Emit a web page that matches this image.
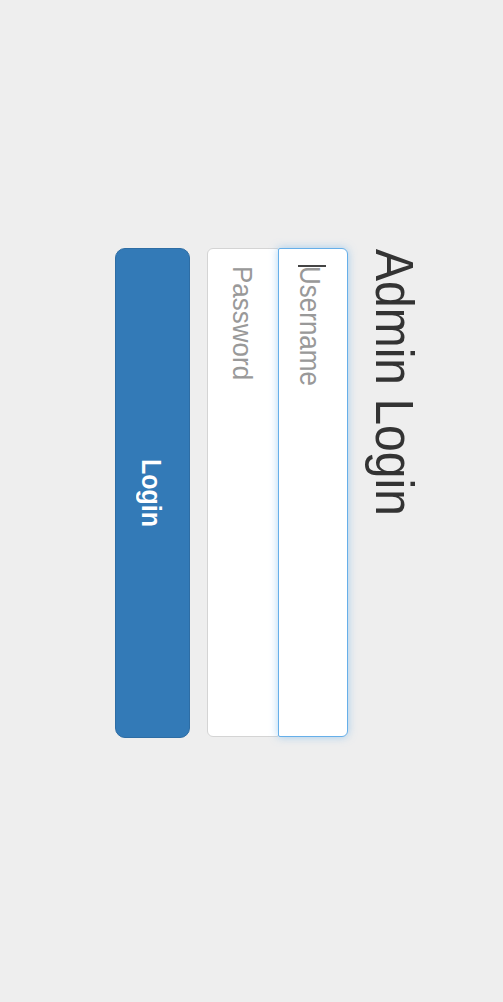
<!DOCTYPE html>
<html>
<head>
<meta charset="utf-8">
<script src="https://cdn.jsdelivr.net/npm/chart.js@4"></script>
<style>
  html, body { margin: 0; padding: 0; }
  body { width: 503px; height: 1002px; background: #eeeeee; overflow: hidden;
         font-family: "Liberation Sans", Arial, Helvetica, sans-serif; }
  /* form is laid out upright, then turned 90deg clockwise */
  #form { position: absolute; left: 425px; top: 248px; width: 490px; height: 320px;
          transform-origin: 0 0; transform: rotate(90deg); }
  .txt { position: absolute; white-space: nowrap; line-height: 1; }
  #title { left: 1px; top: 9.4px; font-size: 48px; color: #333;
           transform-origin: 0 40.6px; transform: scaleY(1.1); }
  .field { position: absolute; left: 0; width: 489px; background: #fff; box-sizing: border-box; }
  #user { top: 77px; height: 70px; border: 1px solid #66afe9; border-radius: 6px 6px 2px 2px;
          box-shadow: 0 0 8px rgba(102,175,233,.55); z-index: 2; }
  #pass { top: 146px; height: 72px; border: 1px solid #d4d4d4; border-radius: 2px 2px 6px 6px; }
  .ph { color: #999; font-size: 26px; }
  #userPh { left: 18px; top: 103px; transform-origin: 0 22px; transform: scaleY(1.12); z-index: 3; }
  #passPh { left: 18px; top: 170px; transform-origin: 0 22px; transform: scaleY(1.08); }
  #caret { position: absolute; left: 17px; top: 99px; width: 1.5px; height: 28px; background: #444; z-index: 4; }
  #btn { position: absolute; left: 0; top: 235px; width: 490px; height: 75px; box-sizing: border-box;
         background: #337ab7; border: 1px solid #2e6da4; border-radius: 10px; }
  #btnTxt { left: 0; width: 490px; text-align: center; top: 261.8px; font-size: 25px; font-weight: bold;
            color: #fff; transform-origin: 0 21.2px; transform: scaleY(1.13); }
</style>
</head>
<body>
<div id="form">
  <div id="title" class="txt">Admin Login</div>
  <div id="user" class="field"></div>
  <div id="pass" class="field"></div>
  <div id="userPh" class="txt ph">Username</div>
  <div id="caret"></div>
  <div id="passPh" class="txt ph">Password</div>
  <div id="btn"></div>
  <div id="btnTxt" class="txt">Login</div>
</div>
</body>
</html>
